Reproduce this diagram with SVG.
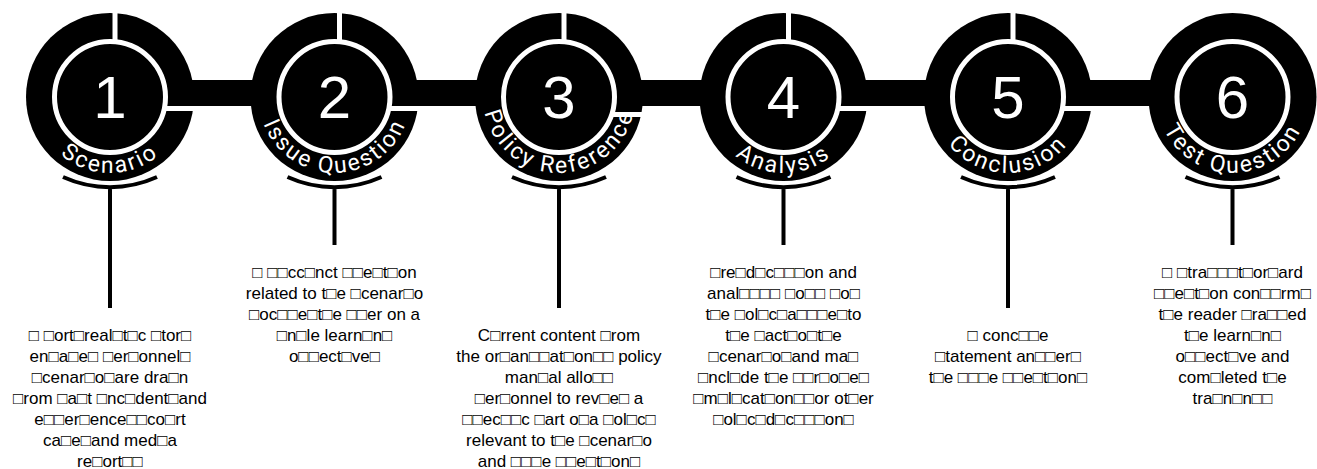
<svg xmlns="http://www.w3.org/2000/svg" xmlns:xlink="http://www.w3.org/1999/xlink" width="1317" height="469" viewBox="0 0 1317 469">
<style>
.disk{fill:#000}
.ring{fill:none;stroke:#fff;stroke-width:5}
.gap{fill:#fff}
.num{font-family:"Liberation Sans",Arial,sans-serif;font-size:60px;fill:#fff;text-anchor:middle}
.lbl{font-family:Roboto,"Liberation Sans",sans-serif;font-size:23px;fill:#fff;letter-spacing:2.3px}
.lbl textPath{text-anchor:middle}
.body{font-family:"Liberation Sans",Arial,sans-serif;font-size:17px;fill:#000;text-anchor:middle}
.bar{fill:#000}
.lead{fill:none;stroke:#000;stroke-width:4}
</style>
<defs>
<path id="arc1" d="M34,97 A76,76 0 0 0 186,97"/>
<path id="arc2" d="M258.5,97 A76,76 0 0 0 410.5,97"/>
<path id="arc3" d="M483,97 A76,76 0 0 0 635,97"/>
<path id="arc4" d="M707.5,97 A76,76 0 0 0 859.5,97"/>
<path id="arc5" d="M932,97 A76,76 0 0 0 1084,97"/>
<path id="arc6" d="M1156.5,97 A76,76 0 0 0 1308.5,97"/>
</defs>
<g id="connectors">
<rect class="bar" x="170" y="80" width="105" height="26"/>
<rect class="bar" x="394.5" y="80" width="105" height="26"/>
<rect class="bar" x="619" y="80" width="105" height="26"/>
<rect class="bar" x="843.5" y="80" width="105" height="26"/>
<rect class="bar" x="1068" y="80" width="105" height="26"/>
<path class="lead" d="M63,177 A114,114 0 0 0 157,177 M110,187 V308"/>
<path class="lead" d="M287.5,177 A114,114 0 0 0 381.5,177 M334.5,187 V245"/>
<path class="lead" d="M512,177 A114,114 0 0 0 606,177 M559,187 V308"/>
<path class="lead" d="M736.5,177 A114,114 0 0 0 830.5,177 M783.5,187 V245"/>
<path class="lead" d="M961,177 A114,114 0 0 0 1055,177 M1008,187 V308"/>
<path class="lead" d="M1185.5,177 A114,114 0 0 0 1279.5,177 M1232.5,187 V245"/>
</g>
<g id="node-1">
<circle class="disk" cx="110" cy="97" r="84"/>
<circle class="ring" cx="110" cy="97" r="55.5"/>
<rect class="gap" x="112.5" y="8" width="5" height="34"/>
<rect class="gap" x="164" y="106" width="32" height="5"/>
<text class="num" x="110" y="118">1</text>
<text class="lbl"><textPath href="#arc1" xlink:href="#arc1" startOffset="50%">Scenario</textPath></text>
<text class="body"><tspan x="110" y="340.5">□ □ort□real□t□c □tor□</tspan><tspan x="110" dy="21">en□a□e□ □er□onnel□</tspan><tspan x="110" dy="21">□cenar□o□are dra□n</tspan><tspan x="110" dy="21">□rom □a□t □nc□dent□and</tspan><tspan x="110" dy="21">e□□er□ence□□co□rt</tspan><tspan x="110" dy="21">ca□e□and med□a</tspan><tspan x="110" dy="21">re□ort□□</tspan></text>
</g>
<g id="node-2">
<circle class="disk" cx="334.5" cy="97" r="84"/>
<circle class="ring" cx="334.5" cy="97" r="55.5"/>
<rect class="gap" x="337" y="8" width="5" height="34"/>
<rect class="gap" x="388.5" y="106" width="32" height="5"/>
<text class="num" x="334.5" y="118">2</text>
<text class="lbl"><textPath href="#arc2" xlink:href="#arc2" startOffset="50%">Issue Question</textPath></text>
<text class="body"><tspan x="334.5" y="277.5">□ □□cc□nct □□e□t□on</tspan><tspan x="334.5" dy="21">related to t□e □cenar□o</tspan><tspan x="334.5" dy="21">□oc□□e□t□e □□er on a</tspan><tspan x="334.5" dy="21">□n□le learn□n□</tspan><tspan x="334.5" dy="21">o□□ect□ve□</tspan></text>
</g>
<g id="node-3">
<circle class="disk" cx="559" cy="97" r="84"/>
<circle class="ring" cx="559" cy="97" r="55.5"/>
<rect class="gap" x="561.5" y="8" width="5" height="34"/>
<rect class="gap" x="613" y="112" width="32" height="5"/>
<text class="num" x="559" y="118">3</text>
<text class="lbl"><textPath href="#arc3" xlink:href="#arc3" startOffset="50%">Policy Reference</textPath></text>
<text class="body"><tspan x="559" y="340.5">C□rrent content □rom</tspan><tspan x="559" dy="21">the or□an□□at□on□□ policy</tspan><tspan x="559" dy="21">man□al allo□□</tspan><tspan x="559" dy="21">□er□onnel to rev□e□ a</tspan><tspan x="559" dy="21">□□ec□□c □art o□a □ol□c□</tspan><tspan x="559" dy="21">relevant to t□e □cenar□o</tspan><tspan x="559" dy="21">and □□□e □□e□t□on□</tspan></text>
</g>
<g id="node-4">
<circle class="disk" cx="783.5" cy="97" r="84"/>
<circle class="ring" cx="783.5" cy="97" r="55.5"/>
<rect class="gap" x="786" y="8" width="5" height="34"/>
<rect class="gap" x="837.5" y="106" width="32" height="5"/>
<text class="num" x="783.5" y="118">4</text>
<text class="lbl"><textPath href="#arc4" xlink:href="#arc4" startOffset="50%">Analysis</textPath></text>
<text class="body"><tspan x="783.5" y="277.5">□re□d□c□□□on and</tspan><tspan x="783.5" dy="21">anal□□□□ □o□□ □o□</tspan><tspan x="783.5" dy="21">t□e □ol□c□a□□□e□to</tspan><tspan x="783.5" dy="21">t□e □act□o□t□e</tspan><tspan x="783.5" dy="21">□cenar□o□and ma□</tspan><tspan x="783.5" dy="21">□ncl□de t□e □□r□o□e□</tspan><tspan x="783.5" dy="21">□m□l□cat□on□□or ot□er</tspan><tspan x="783.5" dy="21">□ol□c□d□c□□□on□</tspan></text>
</g>
<g id="node-5">
<circle class="disk" cx="1008" cy="97" r="84"/>
<circle class="ring" cx="1008" cy="97" r="55.5"/>
<rect class="gap" x="1010.5" y="8" width="5" height="34"/>
<rect class="gap" x="1062" y="106" width="32" height="5"/>
<text class="num" x="1008" y="118">5</text>
<text class="lbl"><textPath href="#arc5" xlink:href="#arc5" startOffset="50%">Conclusion</textPath></text>
<text class="body"><tspan x="1008" y="340.5">□ conc□□e</tspan><tspan x="1008" dy="21">□tatement an□□er□</tspan><tspan x="1008" dy="21">t□e □□□e □□e□t□on□</tspan></text>
</g>
<g id="node-6">
<circle class="disk" cx="1232.5" cy="97" r="84"/>
<circle class="ring" cx="1232.5" cy="97" r="55.5"/>
<text class="num" x="1232.5" y="118">6</text>
<text class="lbl"><textPath href="#arc6" xlink:href="#arc6" startOffset="50%">Test Question</textPath></text>
<text class="body"><tspan x="1232.5" y="277.5">□ □tra□□□t□or□ard</tspan><tspan x="1232.5" dy="21">□□e□t□on con□□rm□</tspan><tspan x="1232.5" dy="21">t□e reader □ra□□ed</tspan><tspan x="1232.5" dy="21">t□e learn□n□</tspan><tspan x="1232.5" dy="21">o□□ect□ve and</tspan><tspan x="1232.5" dy="21">com□leted t□e</tspan><tspan x="1232.5" dy="21">tra□n□n□□</tspan></text>
</g>
</svg>
